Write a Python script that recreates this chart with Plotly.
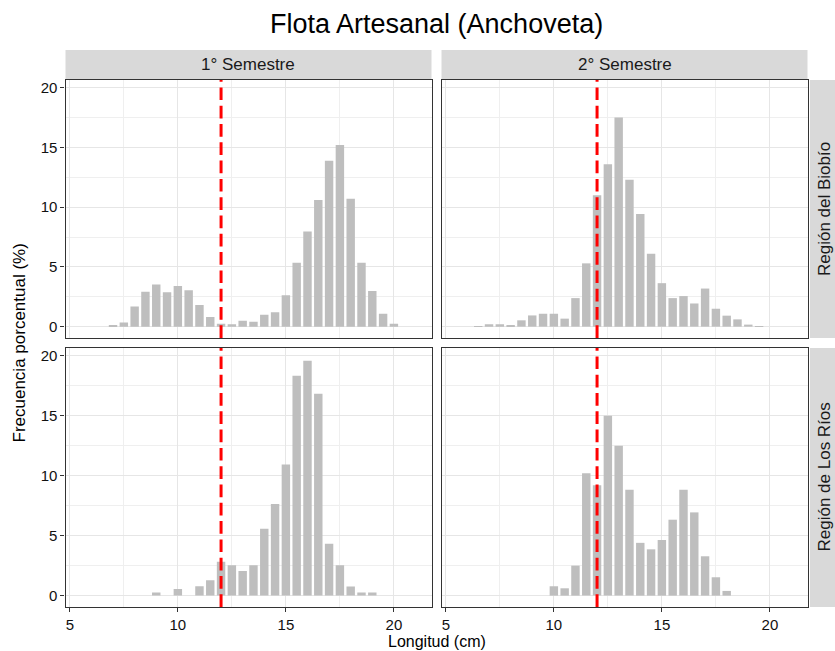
import plotly.graph_objects as go

W, H = 835, 651

# ---------------- data ----------------
title_text = "Flota Artesanal (Anchoveta)"
col_labels = ["1° Semestre", "2° Semestre"]
row_labels = ["Región del Biobío", "Región de Los Ríos"]
x_title = "Longitud (cm)"
y_title = "Frecuencia porcentual (%)"
talla_ref = 12.0

x_biobio_s1 = [7.0, 7.5, 8.0, 8.5, 9.0, 9.5, 10.0, 10.5, 11.0, 11.5, 12.0, 12.5, 13.0, 13.5,
               14.0, 14.5, 15.0, 15.5, 16.0, 16.5, 17.0, 17.5, 18.0, 18.5, 19.0, 19.5, 20.0]
y_biobio_s1 = [0.14, 0.34, 1.68, 2.93, 3.52, 2.88, 3.41, 3.04, 1.82, 0.81, 0.25, 0.20, 0.50, 0.42,
               1.00, 1.20, 2.63, 5.36, 7.96, 10.6, 13.9, 15.2, 10.7, 5.36, 2.99, 1.09, 0.25]

x_biobio_s2 = [6.5, 7.0, 7.5, 8.0, 8.5, 9.0, 9.5, 10.0, 10.5, 11.0, 11.5, 12.0, 12.5, 13.0,
               13.5, 14.0, 14.5, 15.0, 15.5, 16.0, 16.5, 17.0, 17.5, 18.0, 18.5, 19.0, 19.5]
y_biobio_s2 = [0.03, 0.20, 0.20, 0.10, 0.53, 0.94, 1.08, 1.08, 0.67, 2.39, 5.30, 11.0, 13.6, 17.5,
               12.3, 9.44, 6.10, 3.64, 2.39, 2.56, 1.94, 3.19, 1.50, 0.92, 0.61, 0.17, 0.05]

x_rios_s1 = [9.0, 10.0, 11.0, 11.5, 12.0, 12.5, 13.0, 13.5, 14.0, 14.5, 15.0, 15.5, 16.0,
             16.5, 17.0, 17.5, 18.0, 18.5, 19.0]
y_rios_s1 = [0.25, 0.56, 0.78, 1.28, 2.83, 2.53, 2.06, 2.53, 5.58, 7.64, 10.94, 18.33, 19.58,
             16.83, 4.33, 2.53, 0.75, 0.25, 0.25]

x_rios_s2 = [10.0, 10.5, 11.0, 11.5, 12.0, 12.5, 13.0, 13.5, 14.0, 14.5, 15.0, 15.5, 16.0,
             16.5, 17.0, 17.5, 18.0]
y_rios_s2 = [0.78, 0.61, 2.50, 10.2, 9.20, 15.0, 12.5, 8.83, 4.40, 3.86, 4.64, 6.33, 8.83,
             6.94, 3.28, 1.53, 0.39]

x_ticks = [5, 10, 15, 20]
y_ticks = [0, 5, 10, 15, 20]

# ---------------- layout helpers ----------------
FONT = "Liberation Sans, Arial, sans-serif"
col_px = [(65.5, 431.5), (441.5, 807.5)]
row_px = [(80, 338), (348, 607)]

def xd(a, b):
    return [a / W, b / W]

def yd(top, bot):
    return [1 - bot / H, 1 - top / H]

panels = [
    (0, 0, x_biobio_s1, y_biobio_s1),
    (0, 1, x_biobio_s2, y_biobio_s2),
    (1, 0, x_rios_s1, y_rios_s1),
    (1, 1, x_rios_s2, y_rios_s2),
]

fig = go.Figure()
layout = dict(
    width=W, height=H,
    margin=dict(l=0, r=0, t=0, b=0),
    paper_bgcolor="white", plot_bgcolor="white",
    font=dict(family=FONT, color="#1a1a1a"),
    showlegend=False,
    shapes=[], annotations=[],
)

for i, (r, c, xs, ys) in enumerate(panels):
    n = i + 1
    xname = "x" if n == 1 else f"x{n}"
    yname = "y" if n == 1 else f"y{n}"
    fig.add_trace(go.Bar(
        x=xs, y=ys, width=0.39,
        marker=dict(color="#BEBEBE", line=dict(width=0)),
        xaxis=xname, yaxis=yname, hoverinfo="x+y",
    ))
    bottom = (r == 1)
    left = (c == 0)
    xa = dict(
        domain=xd(*col_px[c]), anchor=yname, range=[4.8, 21.74],
        tickmode="array", tickvals=x_ticks,
        showticklabels=bottom, ticks="outside" if bottom else "",
        ticklen=4, tickcolor="#333333", tickwidth=1,
        tickfont=dict(size=15, color="#111111", family=FONT),
        showgrid=True, gridcolor="#E6E6E6", gridwidth=1.4,
        minor=dict(tickmode="array", tickvals=[7.5, 12.5, 17.5], showgrid=True,
                   gridcolor="#EFEFEF", gridwidth=0.9),
        showline=True, mirror=True, linecolor="#333333", linewidth=1.2,
        zeroline=False, fixedrange=True,
    )
    ya = dict(
        domain=yd(*row_px[r]), anchor=xname, range=[-0.95, 20.65],
        tickmode="array", tickvals=y_ticks,
        showticklabels=left, ticks="outside" if left else "",
        ticklen=4, tickcolor="#333333", tickwidth=1,
        tickfont=dict(size=15, color="#111111", family=FONT),
        showgrid=True, gridcolor="#E6E6E6", gridwidth=1.4,
        minor=dict(tickmode="array", tickvals=[2.5, 7.5, 12.5, 17.5], showgrid=True,
                   gridcolor="#EFEFEF", gridwidth=0.9),
        showline=True, mirror=True, linecolor="#333333", linewidth=1.2,
        zeroline=False, fixedrange=True,
    )
    layout["xaxis" if n == 1 else f"xaxis{n}"] = xa
    layout["yaxis" if n == 1 else f"yaxis{n}"] = ya
    # reference size line
    layout["shapes"].append(dict(
        type="line", xref=xname, yref=f"{yname} domain",
        x0=talla_ref, x1=talla_ref, y0=0, y1=1,
        line=dict(color="#FF0000", width=3, dash="12.7px,5.6px"), layer="above",
    ))

# strips
for c in range(2):
    x0, x1 = col_px[c]
    layout["shapes"].append(dict(
        type="rect", xref="paper", yref="paper",
        x0=x0 / W, x1=x1 / W, y0=1 - 80 / H, y1=1 - 50 / H,
        fillcolor="#D9D9D9", line=dict(width=0), layer="below",
    ))
    layout["annotations"].append(dict(
        text=col_labels[c], xref="paper", yref="paper",
        x=(x0 + x1) / 2 / W, y=1 - 65 / H, showarrow=False,
        xanchor="center", yanchor="middle",
        font=dict(size=17, color="#1a1a1a", family=FONT),
    ))
for r in range(2):
    top, bot = row_px[r]
    layout["shapes"].append(dict(
        type="rect", xref="paper", yref="paper",
        x0=810 / W, x1=1.0, y0=1 - bot / H, y1=1 - top / H,
        fillcolor="#D9D9D9", line=dict(width=0), layer="below",
    ))
    layout["annotations"].append(dict(
        text=row_labels[r], xref="paper", yref="paper",
        x=824 / W, y=1 - (top + bot) / 2 / H, showarrow=False, textangle=-90,
        xanchor="center", yanchor="middle",
        font=dict(size=17, color="#1a1a1a", family=FONT),
    ))

# titles
layout["annotations"].append(dict(
    text=title_text, xref="paper", yref="paper", x=437 / W, y=1 - 24 / H,
    showarrow=False, xanchor="center", yanchor="middle",
    font=dict(size=27, color="#000000", family=FONT),
))
layout["annotations"].append(dict(
    text=x_title, xref="paper", yref="paper", x=437 / W, y=0,
    showarrow=False, xanchor="center", yanchor="bottom", borderpad=0,
    font=dict(size=16, color="#000000", family=FONT),
))
layout["annotations"].append(dict(
    text=y_title, xref="paper", yref="paper", x=19 / W, y=1 - 343.5 / H,
    showarrow=False, xanchor="center", yanchor="middle", textangle=-90,
    font=dict(size=17, color="#000000", family=FONT),
))

fig.update_layout(**layout)
fig.write_html("out.html")
